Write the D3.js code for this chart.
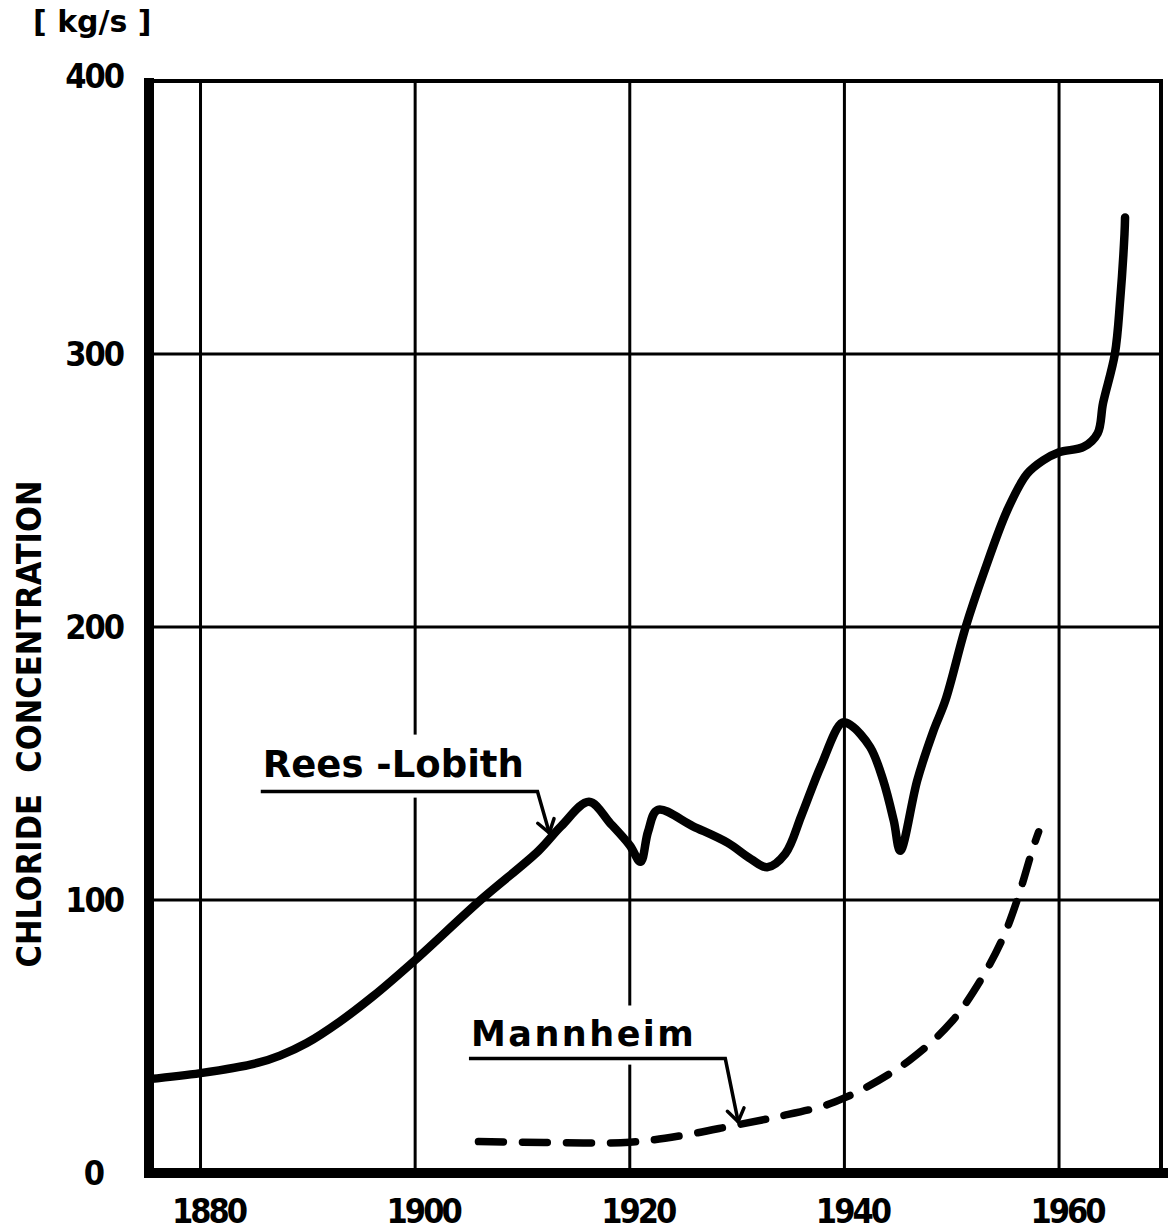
<!DOCTYPE html>
<html>
<head>
<meta charset="utf-8">
<script src="https://cdn.jsdelivr.net/npm/d3@7"></script>
<style>
  body { margin: 0; background: #fff; }
  text { font-family: "DejaVu Sans", sans-serif; font-weight: bold; fill: #000; }
</style>
</head>
<body>
<script>

// chloride load
var reesYears  = [1875.2, 1880, 1885.3, 1887.4, 1889.9, 1893, 1896, 1900, 1906.1, 1911.5, 1913.6, 1916.2, 1918.2,
                  1920, 1921.0, 1921.7, 1922.6, 1925.9, 1929.1, 1931.3, 1932.8, 1934.5, 1936.0, 1937.8, 1939.8,
                  1940.6, 1942.4, 1943.6, 1944.6, 1945.2, 1946.8, 1948.3, 1949.4, 1951.3, 1953.0, 1955.2, 1957.0,
                  1958.5, 1960, 1962.3, 1963.6, 1964.1, 1965.2, 1965.7, 1966.1, 1966.15];
var reesValues = [34.4, 36.6, 40.3, 43, 47.6, 55.5, 64.5, 78, 100, 118, 127, 136, 128,
                  120, 114, 125, 133, 127, 121, 115, 112, 117, 131, 149, 165,
                  164, 156, 144, 129, 118, 144, 162, 173, 200, 220, 243, 256,
                  261, 264, 266, 271, 282, 300, 320, 344, 350];

var mannYears  = [1905.9, 1912, 1920, 1925, 1929.7, 1934.0, 1938.0, 1940, 1942.1, 1946.1, 1949.9, 1952.7,
                  1954.8, 1956.1, 1957.6, 1958.1];
var mannValues = [11.5, 11.2, 11.3, 13.8, 17.4, 20.8, 24.5, 27.5, 31.5, 41.4, 55, 70.7,
                  86.4, 100, 119.4, 125];

// axis ticks
var xTicks = [1880, 1900, 1920, 1940, 1960];
var yTicks = [0, 100, 200, 300, 400];
var xTickLabels = ["1880", "1900", "1920", "1940", "1960"];
var yTickLabels = ["0", "100", "200", "300", "400"];

// series labels: [text year, text value, elbow year, elbow value, tip year, tip value]
var labelNames = ["Rees -Lobith", "Mannheim"];
var labelSpots = [[1885.8, 145.2, 1911.4, 139.7, 1912.5, 124.6],
                  [1905.2, 46.7, 1928.9, 41.9, 1930.1, 18.8]];

var W = 1168, H = 1231;

var svg = d3.select("body").append("svg")
            .attr("width", W)
            .attr("height", H);

var xScale = d3.scaleLinear().domain([1875.2, 1969.5]).range([149, 1161]);
var yScale = d3.scaleLinear().domain([0, 400]).range([1173, 81]);

var grid = svg.append("g");

// vertical grid
grid.selectAll(".vgrid")
    .data(xTicks)
    .enter().append("line")
    .attr("x1", function(d) { return xScale(d); })
    .attr("x2", function(d) { return xScale(d); })
    .attr("y1", yScale(400))
    .attr("y2", yScale(0))
    .attr("stroke", "#000")
    .attr("stroke-width", 3);

// horizontal grid (incl. top border)
grid.selectAll(".hgrid")
    .data(yTicks.slice(1))
    .enter().append("line")
    .attr("x1", xScale.range()[0])
    .attr("x2", xScale.range()[1])
    .attr("y1", function(d) { return yScale(d); })
    .attr("y2", function(d) { return yScale(d); })
    .attr("stroke", "#000")
    .attr("stroke-width", function(d) { return d == 400 ? 4 : 3; });

// right border
grid.append("line")
    .attr("x1", xScale.range()[1]).attr("x2", xScale.range()[1])
    .attr("y1", yScale(400) - 2).attr("y2", yScale(0))
    .attr("stroke", "#000")
    .attr("stroke-width", 4);

// white patches behind the series labels
var labelG = svg.append("g");
labelNames.forEach(function(name, i) {
  var s = labelSpots[i];
  var fs = i == 0 ? 37 : 35;
  var t = labelG.append("text")
        .attr("x", xScale(s[0]))
        .attr("y", yScale(s[1]))
        .style("font-size", fs + "px")
        .style("letter-spacing", i == 0 ? "0px" : "2.5px")
        .text(name);
  var bb = t.node().getBBox();
  labelG.insert("rect", ":first-child")
        .attr("x", bb.x - 6)
        .attr("y", bb.y - 8)
        .attr("width", xScale(s[2]) - bb.x + 10)
        .attr("height", yScale(s[3]) - bb.y + 14)
        .attr("fill", "#fff");
});

var line = d3.line()
             .x(function(d) { return xScale(d[0]); })
             .y(function(d) { return yScale(d[1]); })
             .curve(d3.curveCatmullRom.alpha(0.5));

var rees = d3.zip(reesYears, reesValues);
var mann = d3.zip(mannYears, mannValues);

svg.append("path")
   .attr("d", line(rees))
   .attr("fill", "none")
   .attr("stroke", "#000")
   .attr("stroke-width", 8.5)
   .attr("stroke-linecap", "round")
   .attr("stroke-linejoin", "round");

svg.append("path")
   .attr("d", line(mann))
   .attr("fill", "none")
   .attr("stroke", "#000")
   .attr("stroke-width", 7.5)
   .attr("stroke-linecap", "round")
   .attr("stroke-dasharray", "25,19");

// leader lines with open arrowheads
labelSpots.forEach(function(s) {
  var x0 = xScale(s[0]) - 2, y0 = yScale(s[3]);
  var ex = xScale(s[2]), ey = yScale(s[3]);
  var tx = xScale(s[4]), ty = yScale(s[5]);
  svg.append("path")
     .attr("d", "M" + x0 + "," + y0 + "L" + ex + "," + ey + "L" + tx + "," + ty)
     .attr("fill", "none")
     .attr("stroke", "#000")
     .attr("stroke-width", 3.5);
  var ang = Math.atan2(ty - ey, tx - ex);
  var len = 15;
  [-0.6, 0.6].forEach(function(da) {
    svg.append("line")
       .attr("x1", tx).attr("y1", ty)
       .attr("x2", tx - len * Math.cos(ang + da))
       .attr("y2", ty - len * Math.sin(ang + da))
       .attr("stroke", "#000")
       .attr("stroke-width", 3.5)
       .attr("stroke-linecap", "round");
  });
});

// thick axes
svg.append("line")
   .attr("x1", xScale.range()[0]).attr("x2", xScale.range()[0])
   .attr("y1", yScale(400) - 3).attr("y2", yScale(0) + 5)
   .attr("stroke", "#000")
   .attr("stroke-width", 10);
svg.append("line")
   .attr("x1", xScale.range()[0] - 5).attr("x2", W)
   .attr("y1", yScale(0)).attr("y2", yScale(0))
   .attr("stroke", "#000")
   .attr("stroke-width", 10);

// tick labels
svg.selectAll(".ylab")
   .data(yTicks)
   .enter().append("text")
   .attr("x", function(d) { return d == 0 ? 103 : 123; })
   .attr("y", function(d) { return yScale(d) + (d == 400 ? 7 : 12); })
   .attr("text-anchor", "end")
   .style("font-family", "'DejaVu Sans Condensed', sans-serif")
   .style("font-size", "34px")
   .style("letter-spacing", "-2px")
   .text(function(d, i) { return yTickLabels[i]; });

svg.selectAll(".xlab")
   .data(xTicks)
   .enter().append("text")
   .attr("x", function(d) { return xScale(d) + 8; })
   .attr("y", 1223)
   .attr("text-anchor", "middle")
   .style("font-family", "'DejaVu Sans Condensed', sans-serif")
   .style("font-size", "34px")
   .style("letter-spacing", "-3px")
   .text(function(d, i) { return xTickLabels[i]; });

// unit and axis title
svg.append("text")
   .attr("x", 33)
   .attr("y", 32)
   .style("font-size", "30px")
   .text("[ kg/s ]");

svg.append("text")
   .attr("text-anchor", "middle")
   .attr("transform", "translate(41," + 724 + ")rotate(-90)")
   .style("font-family", "'DejaVu Sans Condensed', sans-serif")
   .style("font-size", "34px")
   .style("white-space", "pre")
   .text("CHLORIDE  CONCENTRATION");

</script>
</body>
</html>
